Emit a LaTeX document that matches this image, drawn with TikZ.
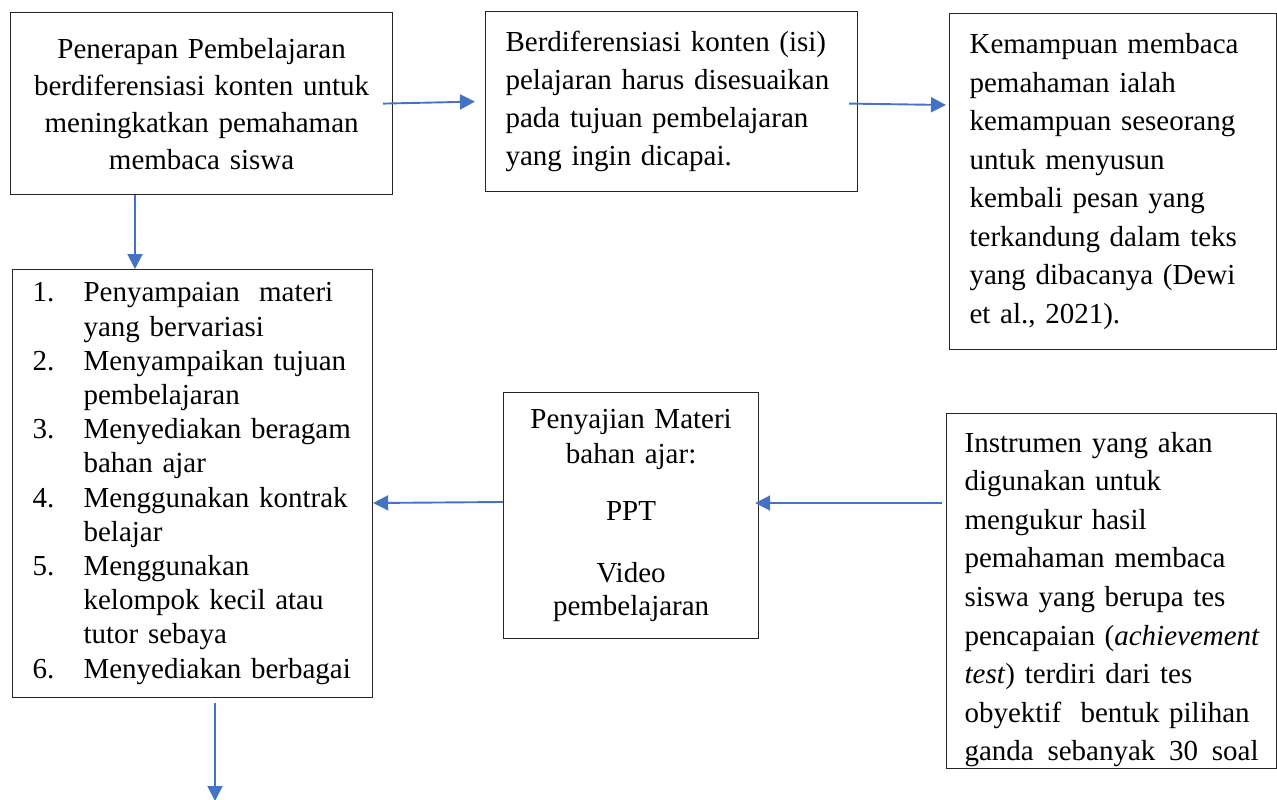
\documentclass[tikz,border=0pt]{standalone}
\usepackage{fontspec}
\setmainfont{Liberation Serif}
\usetikzlibrary{arrows.meta,calc}
\definecolor{arrowblue}{RGB}{68,114,196}
\begin{document}
\begin{tikzpicture}[x=1pt,y=-1pt,
  box/.style={draw=black!85, line width=1.2pt, inner xsep=20pt, inner ysep=0pt, anchor=north west},
  arr/.style={draw=arrowblue, line width=1.9pt, -{Triangle[length=15pt,width=15pt]}}]
\useasboundingbox (0,0) rectangle (1277,800);

\node[box, minimum width=382pt, minimum height=182pt, text width=342pt, align=center,
  font=\fontsize{29}{37}\selectfont] (b1) at (10,12)
  {Penerapan Pembelajaran\\berdiferensiasi konten untuk\\meningkatkan pemahaman\\membaca siswa};

\node[box, minimum width=372pt, minimum height=180pt, text width=332pt, align=left,
  font=\fontsize{29}{38}\selectfont] (b2) at (485,11)
  {Berdiferensiasi konten (isi)\\pelajaran harus disesuaikan\\pada tujuan pembelajaran\\yang ingin dicapai.};

\node[box, minimum width=327pt, minimum height=336pt, text width=287pt, align=left,
  font=\fontsize{29}{38.5}\selectfont] (b3) at (949,13)
  {Kemampuan membaca\\pemahaman ialah\\kemampuan seseorang\\untuk menyusun\\kembali pesan yang\\terkandung dalam teks\\yang dibacanya (Dewi\\et al., 2021).};

\node[box, minimum width=360pt, minimum height=428pt, text width=320pt, align=left,
  font=\fontsize{29}{34.2}\selectfont] (b4) at (12,269)
  {\makebox[51pt][l]{1.}Penyampaian\ \ materi\\
   \hspace*{51pt}yang bervariasi\\
   \makebox[51pt][l]{2.}Menyampaikan tujuan\\
   \hspace*{51pt}pembelajaran\\
   \makebox[51pt][l]{3.}Menyediakan beragam\\
   \hspace*{51pt}bahan ajar\\
   \makebox[51pt][l]{4.}Menggunakan kontrak\\
   \hspace*{51pt}belajar\\
   \makebox[51pt][l]{5.}Menggunakan\\
   \hspace*{51pt}kelompok kecil atau\\
   \hspace*{51pt}tutor sebaya\\
   \makebox[51pt][l]{6.}Menyediakan berbagai};

\node[box, minimum width=255pt, minimum height=246pt, text width=215pt, align=center,
  font=\fontsize{29}{35}\selectfont] (b5) at (503,392)
  {Penyajian Materi\\bahan ajar:\\[22pt]PPT\\[27pt]Video\\[-2pt]pembelajaran};

\node[box, inner xsep=18pt, minimum width=330pt, minimum height=355pt, text width=294pt, align=left,
  font=\fontsize{29}{38.6}\selectfont] (b6) at (946,413)
  {\rule{0pt}{37pt}Instrumen yang akan\\digunakan untuk\\mengukur hasil\\pemahaman membaca\\siswa yang berupa tes\\\mbox{pencapaian (\textit{achievement}}\\\textit{test}) terdiri dari tes\\obyektif\ \ bentuk pilihan\\\hbox to 294pt{ganda\hfill sebanyak\hfill 30\hfill soal}};

\coordinate (bottomend) at (215,801);

\draw[arr] ([xshift=-10pt]b1.east) -- ([xshift=-10pt]b2.west);
\draw[arr] ([xshift=-9pt,yshift=-2pt]b2.east) -- ([xshift=-3pt,yshift=-92pt]b3.north west);
\draw[arr] ([xshift=125pt]b1.south west) -- ([xshift=123pt]b4.north west);
\draw[arr] ([yshift=-110pt]b5.north west) -- ([yshift=-234pt]b4.north east);
\draw[arr] ([xshift=-4pt,yshift=-90pt]b6.north west) -- ([xshift=-4pt,yshift=-111pt]b5.north east);
\draw[arr] ([xshift=203pt,yshift=-5pt]b4.south west) -- (bottomend);
\end{tikzpicture}
\end{document}
